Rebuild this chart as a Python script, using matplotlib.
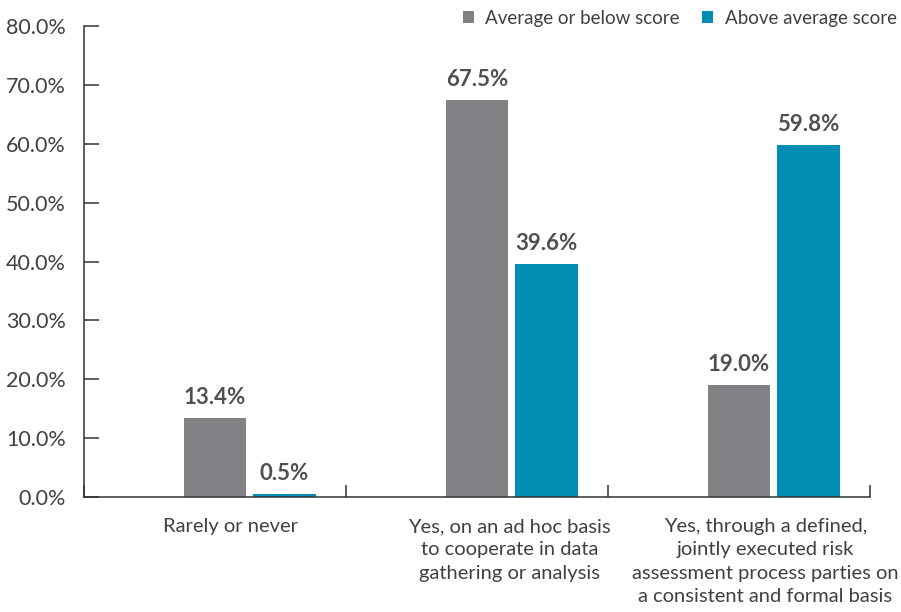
import numpy as np
import matplotlib
matplotlib.use('Agg')
import matplotlib.pyplot as plt
from matplotlib.ticker import FuncFormatter

plt.rcParams['font.family'] = ['Lato', 'DejaVu Sans']

categories = ['Rarely or never',
              'Yes, on an ad hoc basis\nto cooperate in data\ngathering or analysis',
              'Yes, through a defined,\njointly executed risk\nassessment process parties on\na consistent and formal basis']
below_avg = [13.4, 67.5, 19.0]
above_avg = [0.5, 39.6, 59.8]
series_names = ['Average or below score', 'Above average score']
label_shift = [0.06, 0.125, 0.10]   # category captions sit right of centre
grey = '#808285'
teal = '#008fb3'
text_col = '#404040'

fig = plt.figure(figsize=(9.01, 6.12), dpi=100)
ax = fig.add_axes([0.0932, 0.1879, 0.8724, 0.7696])

x = np.arange(len(categories))
w = 0.24
b1 = ax.bar(x, below_avg, w, color=grey, label=series_names[0])
b2 = ax.bar(x + 0.265, above_avg, w, color=teal, label=series_names[1])

for bars, vals in ((b1, below_avg), (b2, above_avg)):
    for r, v in zip(bars, vals):
        ax.annotate(f'{v:.1f}%', (r.get_x() + r.get_width() / 2, v),
                    xytext=(0, 7), textcoords='offset points',
                    ha='center', va='bottom', fontsize=16, fontweight='bold',
                    color='#505050')

ax.set_xlim(-0.5, 2.5)
ax.set_ylim(0, 80)
ax.set_yticks(np.arange(0, 81, 10))
ax.yaxis.set_major_formatter(FuncFormatter(lambda v, p: f'{v:.1f}%'))

# boundary ticks between categories, captions drawn as text
ax.set_xticks([-0.5, 0.5, 1.5, 2.5])
ax.set_xticklabels([])
for xi, cat, sh in zip(x, categories, label_shift):
    ax.text(xi + sh, -0.045, cat, transform=ax.get_xaxis_transform(),
            ha='center', va='top', fontsize=14.5, color=text_col,
            linespacing=1.45)

ax.tick_params(axis='x', which='major', direction='in', length=9,
               width=1.1, color='#333333')
ax.tick_params(axis='y', direction='in', length=11, width=1.1,
               color='#333333', labelsize=15.5, labelcolor=text_col, pad=13)

for s in ('top', 'right'):
    ax.spines[s].set_visible(False)
for s in ('left', 'bottom'):
    ax.spines[s].set_color('#333333')
    ax.spines[s].set_linewidth(1.1)

fig.legend(loc='upper right', bbox_to_anchor=(1.014, 1.012), ncol=2,
           frameon=False, fontsize=13.5, handlelength=0.6, handleheight=0.6,
           handletextpad=0.6, columnspacing=1.2, labelcolor=text_col)

fig.savefig('out.png', dpi=100)
